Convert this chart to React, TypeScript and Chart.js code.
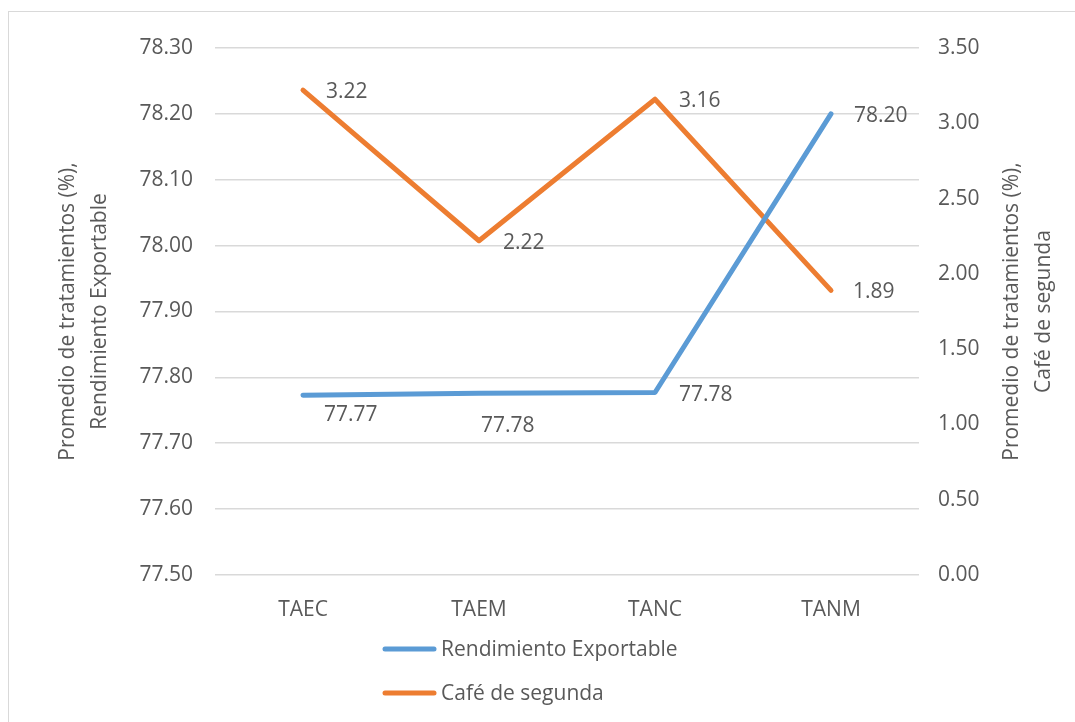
import React, { useEffect, useRef } from "react";
import { Chart, registerables } from "chart.js";

Chart.register(...registerables);

// ---- Data ----
const categories = ["TAEC", "TAEM", "TANC", "TANM"];
const rendimientoExportable = [77.773, 77.776, 77.777, 78.2];
const cafeDeSegunda = [3.22, 2.22, 3.16, 1.89];
const seriesNames = ["Rendimiento Exportable", "Café de segunda"];
const leftAxisTitle = ["Promedio de tratamientos (%),", "Rendimiento Exportable"];
const rightAxisTitle = ["Promedio de tratamientos (%),", "Café de segunda"];
const leftAxisRange = [77.5, 78.3, 0.1];
const rightAxisRange = [0, 3.5, 0.5];

// ---- Styles ----
const FONT = "'Open Sans', 'DejaVu Sans', sans-serif";
const FONT_SIZE = 21;
const TEXT_COLOR = "#595959";
const GRID_COLOR = "#d9d9d9";
const BLUE = "#5B9BD5";
const ORANGE = "#ED7D31";
const SERIES_COLORS = [BLUE, ORANGE];
// label offsets (text left edge / vertical shift relative to point)
const LABEL_OFFSETS = [
  [[21, 20], [2, 33], [24, 2], [23, 2]],
  [[23, 2], [24, 2], [24, 2], [22, 2]],
];

const decorPlugin = {
  id: "decor",
  afterDatasetsDraw(chart: any) {
    const ctx = chart.ctx as CanvasRenderingContext2D;
    ctx.save();
    ctx.font = `${FONT_SIZE}px ${FONT}`;
    ctx.fillStyle = TEXT_COLOR;
    ctx.textAlign = "left";
    ctx.textBaseline = "middle";
    chart.data.datasets.forEach((ds: any, di: number) => {
      const meta = chart.getDatasetMeta(di);
      meta.data.forEach((pt: any, i: number) => {
        const [dx, dy] = LABEL_OFFSETS[di][i];
        ctx.fillText((ds.data[i] as number).toFixed(2), pt.x + dx, pt.y + dy);
      });
    });

    // axis titles
    const cy = (chart.chartArea.top + chart.chartArea.bottom) / 2;
    const drawTitle = (lines: string[], x0: number) => {
      lines.forEach((line, k) => {
        ctx.save();
        ctx.translate(x0 + k * 32, cy);
        ctx.rotate(-Math.PI / 2);
        ctx.textAlign = "center";
        ctx.textBaseline = "middle";
        ctx.fillText(line, 0, 0);
        ctx.restore();
      });
    };
    drawTitle(leftAxisTitle, 68);
    drawTitle(rightAxisTitle, 1012);

    // legend
    chart.data.datasets.forEach((ds: any, di: number) => {
      const y = 649 + di * 44;
      ctx.save();
      ctx.strokeStyle = ds.borderColor;
      ctx.lineWidth = 5;
      ctx.lineCap = "round";
      ctx.beginPath();
      ctx.moveTo(385, y);
      ctx.lineTo(434, y);
      ctx.stroke();
      ctx.restore();
      ctx.textAlign = "left";
      ctx.textBaseline = "middle";
      ctx.fillText(ds.label, 441, y + 1);
    });
    ctx.restore();
  },
};

export default function App() {
  const canvasRef = useRef<HTMLCanvasElement | null>(null);

  useEffect(() => {
    if (!canvasRef.current) return;
    const tickFont = { family: FONT, size: FONT_SIZE };
    const chart = new Chart(canvasRef.current, {
      type: "line",
      data: {
        labels: categories,
        datasets: [
          {
            label: seriesNames[0],
            data: rendimientoExportable,
            borderColor: SERIES_COLORS[0],
            backgroundColor: SERIES_COLORS[0],
            borderWidth: 5,
            borderCapStyle: "round",
            borderJoinStyle: "round",
            pointRadius: 0,
            tension: 0,
            yAxisID: "y",
          },
          {
            label: seriesNames[1],
            data: cafeDeSegunda,
            borderColor: SERIES_COLORS[1],
            backgroundColor: SERIES_COLORS[1],
            borderWidth: 5,
            borderCapStyle: "round",
            borderJoinStyle: "round",
            pointRadius: 0,
            tension: 0,
            yAxisID: "y1",
          },
        ],
      },
      options: {
        responsive: false,
        animation: false,
        devicePixelRatio: 1,
        layout: { padding: { top: 48, left: 0, right: 0, bottom: 0 } },
        plugins: {
          legend: { display: false },
          tooltip: { enabled: false },
        },
        scales: {
          x: {
            offset: true,
            grid: { display: false, drawTicks: false },
            border: { display: false },
            ticks: { font: tickFont, color: TEXT_COLOR, padding: 22 },
            afterFit: (s: any) => {
              s.height = 147;
            },
          },
          y: {
            position: "left",
            min: leftAxisRange[0],
            max: leftAxisRange[1],
            grid: { color: GRID_COLOR, lineWidth: 1.5, drawTicks: false },
            border: { display: false },
            ticks: {
              stepSize: leftAxisRange[2],
              font: tickFont,
              color: TEXT_COLOR,
              padding: 22,
              callback: (v: any) => Number(v).toFixed(2),
            },
            afterFit: (s: any) => {
              s.width = 215;
            },
          },
          y1: {
            position: "right",
            min: rightAxisRange[0],
            max: rightAxisRange[1],
            grid: { display: false, drawTicks: false },
            border: { display: false },
            ticks: {
              stepSize: rightAxisRange[2],
              font: tickFont,
              color: TEXT_COLOR,
              padding: 19,
              callback: (v: any) => Number(v).toFixed(2),
            },
            afterFit: (s: any) => {
              s.width = 156;
            },
          },
        },
      },
      plugins: [decorPlugin],
    } as any);
    return () => chart.destroy();
  }, []);

  return (
    <>
      <div
        style={{
          position: "fixed",
          left: 8,
          top: 11,
          width: 1067,
          height: 711,
          boxSizing: "border-box",
          borderLeft: "1.5px solid #d9d9d9",
          borderTop: "1.5px solid #d9d9d9",
        }}
      />
      <canvas
        ref={canvasRef}
        width={1075}
        height={722}
        style={{ position: "fixed", left: 0, top: 0, width: 1075, height: 722 }}
      />
    </>
  );
}
